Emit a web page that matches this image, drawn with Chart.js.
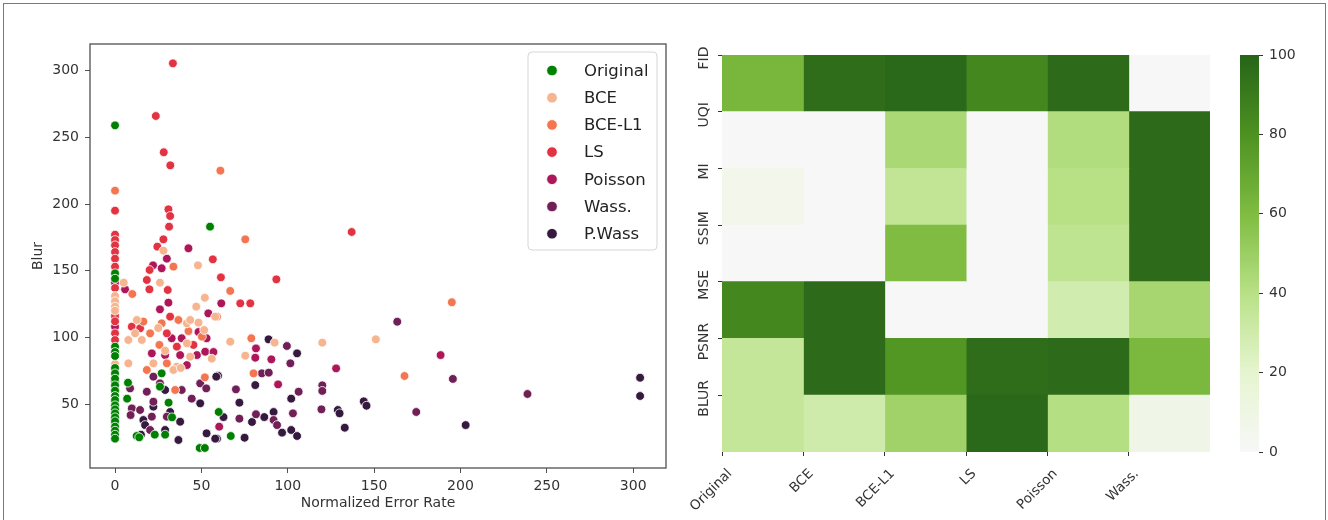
<!DOCTYPE html>
<html>
<head>
<meta charset="utf-8">
<script src="https://cdn.jsdelivr.net/npm/chart.js@4.4.1/dist/chart.umd.min.js"></script>
<style>
  html, body { margin: 0; padding: 0; background: #fff; }
  #fig { position: relative; width: 1328px; height: 520px; overflow: hidden; }
  #frame { position: absolute; left: 3px; top: 3px; width: 1323px; height: 540px; border: 1px solid #7a7a7a; box-sizing: border-box; }
  canvas { position: absolute; top: 0; }
</style>
</head>
<body>
<div id="fig">
  <div id="frame"></div>
  <canvas id="scatter" width="680" height="520" style="left:0px"></canvas>
  <canvas id="heat" width="540" height="520" style="left:680px"></canvas>
  <canvas id="cbar" width="100" height="520" style="left:1220px"></canvas>
</div>
<script>
// ---- scatter data: [normalized error rate, blur] ----
const seriesNames = ['Original', 'BCE', 'BCE-L1', 'LS', 'Poisson', 'Wass.', 'P.Wass'];
const seriesColors = ['#008000', '#f6b48f', '#f37651', '#e13342', '#ad1759', '#701f57', '#35193e'];

const originalPts = [[0,259],[0,148],[0,144],[0,93],[0,89],[0,86],[0,77],[0,73],[0,69],[0,64],[0,60],[0,56],[0,53],[0,49],[0,46],[0,43],[0,40],[0,37],[0,33],[0,30],[0,27],[0,24],
  [55,183],[7.5,66],[7,54],[12.5,26],[14,25],[23,27],[29,27],[27,73],[26,63],[31,51],[33,40],[49,17],[52,17],[60,44],[67,26]];
const bcePts = [[0,131],[0,127],[0,123],[0,120],[0,80],
  [28,165],[5,141],[26,141],[48,154],[12.6,113],[11.6,103],[7.7,98],[15.5,98],[25,107],[41.6,110.5],[48.3,111],[41.6,95.5],[43.5,85.5],[22.2,80.5],[35.8,78],[33.8,75.5],[7.7,80.5],
  [52,129.7],[47,123],[58,115.5],[66.7,96.7],[92.4,96],[75.4,86.2],[120,96],[151,98.5],[56,84],[51.6,105.5],[43.5,113],[38,77],[29,90]];
const bceL1Pts = [[0,210],[61,225],[75.4,173.5],[195,126.3],[167.6,71],[33.8,153],[66.7,134.8],[10,132.5],[16.4,111.8],[20.3,103],[27,110.5],[36.7,113],[42.5,104.7],
  [50.3,100.5],[25.7,94.3],[30,80.5],[18.4,75.5],[34.8,60.5],[59,115.5],[78.9,99.3],[80.2,73],[52,70]];
const lsPts = [[0,195],[0,177],[0,173],[0,169],[0,164],[0,159],[0,153],[0,137],[0,116],[0,112],[0,103],[0,98],[0,35],
  [33.5,305.5],[23.6,266],[28.2,238.8],[32,229],[30.9,196],[31.9,191],[31.3,183],[28,173.5],[24.5,168],[20,150.5],[56.6,158.5],[18.4,143],[19.9,136],[30.5,135.5],
  [61.3,145],[93.4,143.5],[72.5,125.5],[78.3,125.5],[137,179],[9.7,108],[14.5,106.8],[31.9,115.5],[30,103],[35.8,93],[45.4,94.3]];
const poissonPts = [[0,141],[0,108],[0,67],[0,39],[5.8,136],[30,159],[42.5,166.8],[22,154],[27,151.8],[30.9,126],[26,121],[54,118],[61.5,125.5],[32.8,99.3],[38.6,99.3],
  [48.3,104],[53,99.3],[21.3,88],[29,86.7],[37.7,86.7],[47.4,86.7],[52.2,89.2],[41.6,79.2],[81.6,91.7],[81.2,84.7],[90.5,83.5],[94.4,64.7],[60.3,33],[128,76.7],[188.5,86.7],[57,89]];
const wassPts = [[0,61],[163.4,111.7],[195.6,68.8],[238.8,57.5],[174.4,44],[99.5,93.5],[101.5,80.5],[85,73],[89,73.5],[70,61],[120,64],[120,59.8],[106.3,59.2],[119.5,46],
  [103,43],[72,39],[81.6,42.3],[91.8,38],[93.8,34.2],[22.2,70.5],[26,65.5],[38.6,60.5],[18.4,59.2],[44.4,54],[8.7,61.7],[9.7,46.7],[14.5,45.5],[9,41.7],[22.2,51.7],
  [20.3,30.5],[30,40.5],[49.3,65.5],[52.8,61.7],[21.3,40.5]];
const pWassPts = [[304,69.7],[304,56],[144,52],[145.6,48.7],[129,45.5],[130,43],[133,32.2],[203,34.2],[88.9,98.5],[105.4,88],[59.6,71.2],[81.2,64.2],[102,54],[72,51],
  [62.8,40.2],[86.4,40.2],[79.3,36.5],[91.8,44],[96.7,28.5],[102,30.5],[105.4,26],[59,24],[75,24.7],[29,60.5],[49.3,50.5],[58.6,70.5],[16.4,38],[22.2,48],[17.4,34.2],
  [15,27],[31.9,44],[37.7,36.7],[29,30.5],[36.7,23],[53,28],[58,24]];
const seriesData = [originalPts, bcePts, bceL1Pts, lsPts, poissonPts, wassPts, pWassPts];

const xTicks = [0, 50, 100, 150, 200, 250, 300];
const yTicks = [50, 100, 150, 200, 250, 300];

// ---- heatmap data (0-100), one array per column, rows top to bottom ----
const heatCols = ['Original', 'BCE', 'BCE-L1', 'LS', 'Poisson', 'Wass.'];
const heatRows = ['FID', 'UQI', 'MI', 'SSIM', 'MSE', 'PSNR', 'BLUR'];
const heatOriginal = [63, 0, 6, 0, 85, 35, 35];
const heatBce      = [96, 0, 0, 0, 97, 97, 30];
const heatBceL1    = [98, 45, 36, 60, 0, 78, 48];
const heatLs       = [85, 0, 0, 0, 0, 96, 98];
const heatPoisson  = [97, 42, 40, 37, 29, 97, 41];
const heatWass     = [0, 97, 97, 97, 46, 62, 8];
const heatValues = [heatOriginal, heatBce, heatBceL1, heatLs, heatPoisson, heatWass];
const cbTicks = [0, 20, 40, 60, 80, 100];

// green half of PiYG
const greenStops = ['#f7f7f7', '#e6f5d0', '#b8e186', '#7fbc41', '#4d9221', '#276419'];

function hexRgb(h) {
  return [parseInt(h.substr(1, 2), 16), parseInt(h.substr(3, 2), 16), parseInt(h.substr(5, 2), 16)];
}
function greens(v) {
  const t = Math.max(0, Math.min(1, v / 100)) * (greenStops.length - 1);
  const i = Math.min(Math.floor(t), greenStops.length - 2);
  const f = t - i;
  const a = hexRgb(greenStops[i]), b = hexRgb(greenStops[i + 1]);
  const c = a.map((x, k) => Math.round(x + (b[k] - x) * f));
  return `rgb(${c[0]},${c[1]},${c[2]})`;
}

Chart.defaults.font.family = '"DejaVu Sans", sans-serif';
Chart.defaults.font.size = 14;
Chart.defaults.color = '#333';

// box around the scatter axes
const frameBox = {
  id: 'frameBox',
  afterDatasetsDraw(chart) {
    const a = chart.chartArea, ctx = chart.ctx;
    ctx.save();
    ctx.strokeStyle = '#505050';
    ctx.lineWidth = 1.3;
    ctx.strokeRect(a.left, a.top, a.right - a.left, a.bottom - a.top);
    ctx.restore();
  }
};

// legend inside the plot, upper right
const scatterLegend = {
  id: 'scatterLegend',
  afterDraw(chart) {
    const ctx = chart.ctx;
    const left = 528, top = 52, w = 129, h = 198;
    ctx.save();
    ctx.beginPath();
    ctx.roundRect(left, top, w, h, 4);
    ctx.fillStyle = 'rgba(255,255,255,0.85)';
    ctx.fill();
    ctx.strokeStyle = '#d6d6d6';
    ctx.lineWidth = 1;
    ctx.stroke();
    chart.data.datasets.forEach((ds, i) => {
      const y = top + 18.5 + i * 27.2;
      ctx.beginPath();
      ctx.arc(left + 24, y, 5.3, 0, Math.PI * 2);
      ctx.fillStyle = ds.backgroundColor;
      ctx.fill();
      ctx.strokeStyle = '#fff';
      ctx.lineWidth = 0.8;
      ctx.stroke();
      ctx.fillStyle = '#222';
      ctx.font = '16.5px "DejaVu Sans", sans-serif';
      ctx.textBaseline = 'middle';
      ctx.textAlign = 'left';
      ctx.fillText(ds.label, left + 56, y + 1);
    });
    ctx.restore();
  }
};

// heatmap row names, vertical, centred on the row ticks of the yl scale
const rowLabels = {
  id: 'rowLabels',
  afterDraw(chart) {
    const s = chart.scales.yl, ctx = chart.ctx;
    ctx.save();
    ctx.fillStyle = '#333';
    ctx.font = '14px "DejaVu Sans", sans-serif';
    ctx.textAlign = 'center';
    ctx.textBaseline = 'middle';
    heatRows.forEach((r, i) => {
      ctx.save();
      ctx.translate(chart.chartArea.left - 18, s.getPixelForValue(i) + 3);
      ctx.rotate(-Math.PI / 2);
      ctx.fillText(r, 0, 0);
      ctx.restore();
    });
    ctx.restore();
  }
};

new Chart(document.getElementById('scatter'), {
  type: 'scatter',
  data: {
    datasets: seriesNames.map((name, i) => ({
      label: name,
      data: seriesData[i],
      backgroundColor: seriesColors[i],
      borderColor: '#ffffff',
      borderWidth: 0.8,
      pointRadius: 4.4,
      pointHoverRadius: 4.4
    }))
  },
  options: {
    responsive: false,
    animation: false,
    layout: { padding: { top: 44, right: 14, left: 0, bottom: 0 } },
    plugins: { legend: { display: false }, tooltip: { enabled: false } },
    scales: {
      x: {
        type: 'linear', min: -14.5, max: 319,
        afterBuildTicks: s => { s.ticks = xTicks.map(v => ({ value: v })); },
        afterFit: s => { s.height = 52; },
        grid: { drawOnChartArea: false, tickLength: 5, tickColor: '#505050' },
        border: { display: false },
        ticks: { padding: 5, color: '#333' },
        title: { display: true, text: 'Normalized Error Rate', color: '#333', padding: { top: 0, bottom: 8 } }
      },
      y: {
        type: 'linear', min: 2, max: 320,
        afterBuildTicks: s => { s.ticks = yTicks.map(v => ({ value: v })); },
        afterFit: s => { s.width = 90; },
        grid: { drawOnChartArea: false, tickLength: 5, tickColor: '#505050' },
        border: { display: false },
        ticks: { padding: 6, color: '#333' },
        title: { display: true, text: 'Blur', color: '#333', padding: { top: 30, bottom: 0 } }
      }
    }
  },
  plugins: [frameBox, scatterLegend]
});

// heatmap: each cell is a floating bar [col, col + 1] on its row
new Chart(document.getElementById('heat'), {
  type: 'bar',
  data: {
    labels: heatRows,
    datasets: heatCols.map((c, ci) => ({
      label: c,
      data: heatRows.map(() => [ci, ci + 1]),
      backgroundColor: heatValues[ci].map(greens),
      borderWidth: 0,
      inflateAmount: 0.5,
      grouped: false,
      barPercentage: 1,
      categoryPercentage: 1
    }))
  },
  options: {
    indexAxis: 'y',
    responsive: false,
    animation: false,
    layout: { padding: { top: 55, right: 10, left: 0, bottom: 0 } },
    plugins: { legend: { display: false }, tooltip: { enabled: false } },
    scales: {
      x: {
        type: 'linear', min: 0, max: 6,
        afterBuildTicks: s => { s.ticks = heatCols.map((c, i) => ({ value: i })); },
        afterFit: s => { s.height = 68; s.paddingLeft = 0; s.paddingRight = 0; },
        grid: { drawOnChartArea: false, tickLength: 4, tickColor: '#333' },
        border: { display: false },
        ticks: { callback: v => heatCols[v], minRotation: 45, maxRotation: 45, labelOffset: 8, padding: 10, color: '#333', font: { size: 13.5 } }
      },
      y: { type: 'category', display: false },
      yl: {
        axis: 'y', type: 'linear', position: 'left', min: 0, max: 7, reverse: true, offset: false,
        afterBuildTicks: s => { s.ticks = heatRows.map((r, i) => ({ value: i })); },
        afterFit: s => { s.width = 42; s.paddingTop = 0; s.paddingBottom = 0; },
        grid: { offset: false, drawOnChartArea: false, tickLength: 4, tickColor: '#333' },
        border: { display: false },
        ticks: { display: false }
      }
    }
  },
  plugins: [rowLabels]
});

// colour bar
new Chart(document.getElementById('cbar'), {
  type: 'bar',
  data: {
    labels: [''],
    datasets: [{
      data: [cbTicks[cbTicks.length - 1]],
      backgroundColor: ctx => {
        const a = ctx.chart.chartArea;
        if (!a) return greenStops[0];
        const g = ctx.chart.ctx.createLinearGradient(0, a.bottom, 0, a.top);
        greenStops.forEach((c, k) => g.addColorStop(k / (greenStops.length - 1), c));
        return g;
      },
      borderWidth: 0,
      barPercentage: 1,
      categoryPercentage: 1
    }]
  },
  options: {
    responsive: false,
    animation: false,
    layout: { padding: { top: 55, bottom: 68, left: 20, right: 0 } },
    plugins: { legend: { display: false }, tooltip: { enabled: false } },
    scales: {
      x: { display: false },
      y: {
        position: 'right', min: 0, max: 100,
        afterBuildTicks: s => { s.ticks = cbTicks.map(v => ({ value: v })); },
        afterFit: s => { s.width = 61; },
        grid: { drawOnChartArea: false, tickLength: 4, tickColor: '#333' },
        border: { display: false },
        ticks: { padding: 6, color: '#333' }
      }
    }
  }
});
</script>
</body>
</html>
